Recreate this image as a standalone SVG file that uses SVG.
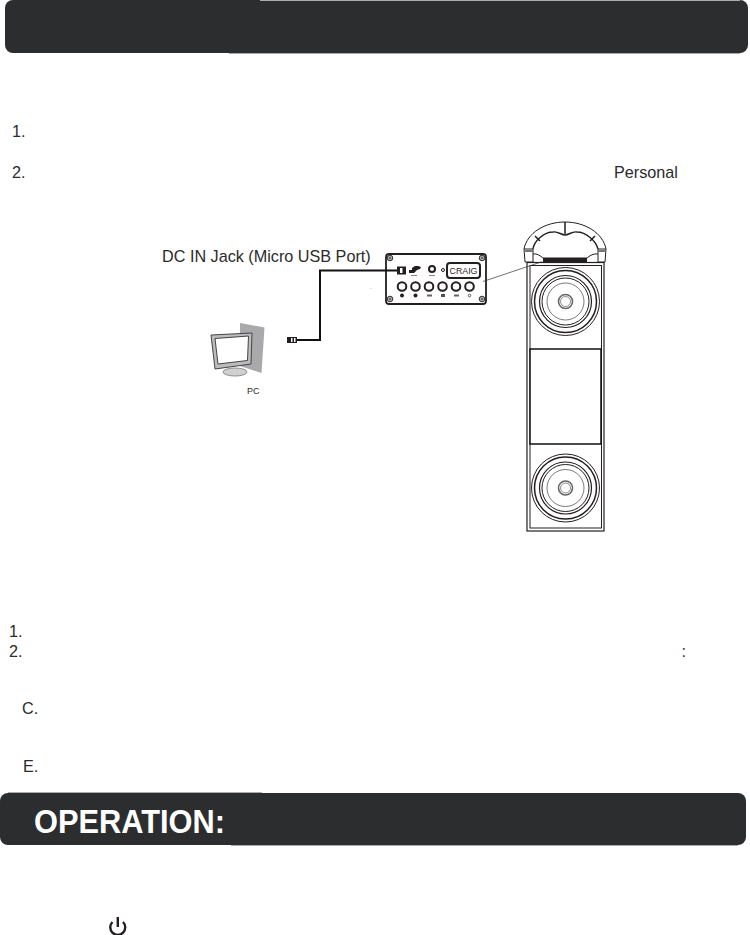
<svg xmlns="http://www.w3.org/2000/svg" width="750" height="935" viewBox="0 0 750 935">
<style>
text{font-family:"Liberation Sans",Arial,sans-serif;fill:#2b2b2b}
.n{font-size:16.200px}
.bar{fill:#2c2d2f}
.edge{fill:none;stroke:#a9aaab;stroke-width:1}
.k{fill:none;stroke:#231f20}
.b{fill:none;stroke:#231f20;stroke-width:2}
.f{fill:#231f20}
</style>
<defs>
<g id="driver">
<circle class="k" r="34" stroke-width="1"/>
<circle class="k" r="31" stroke-width="1.500"/>
<circle class="k" r="26" stroke-width="1.200"/>
<circle class="k" r="23.500" stroke-width="1"/>
<circle class="k" r="18.500" stroke-width=".6"/>
<circle r="7" fill="#fff" stroke="#666" stroke-width="1.600"/>
<circle class="k" r="5" stroke-width=".5"/>
</g>
<g id="screw">
<circle r="2.800" fill="#aaa" stroke="#231f20" stroke-width=".9"/>
<circle r="1" fill="#555"/>
</g>
</defs>
<rect width="750" height="935" fill="#fff"/>

<g id="top-bar">
<rect class="bar" x="5" y="0" width="743" height="53" rx="8"/>
<path class="edge" d="M260 .5H740M229 53.500H740"/>
</g>

<g id="list-1">
<text class="n" x="12" y="137">1.</text>
<text class="n" x="12" y="178">2.</text>
<text class="n" x="614" y="178">Personal</text>
</g>

<g id="label-dc">
<text x="162" y="262" font-size="16.200">DC IN Jack (Micro USB Port)</text>
<text x="370" y="289" font-size="5">.</text>
</g>

<g id="panel">
<rect x="386" y="254" width="100" height="50" rx="3" fill="#fff" stroke="#231f20" stroke-width="1.800"/>
<use href="#screw" x="390" y="258"/>
<use href="#screw" x="482" y="258"/>
<use href="#screw" x="390" y="299"/>
<use href="#screw" x="482" y="299"/>
<path class="f" d="M409 270h3v-2l3-2h3l3 1-1 2-3 1-3 3h-5z"/>
<rect x="411" y="275" width="6" height="1" fill="#888"/>
<circle cx="432" cy="269" r="3" class="b" stroke-width="1.500"/>
<rect x="429" y="275" width="6" height="1" fill="#888"/>
<circle cx="443" cy="270" r="1.500" class="k"/>
<rect x="447" y="263" width="33" height="15" rx="3" class="b" fill="#fff"/>
<text x="449.500" y="274" font-size="8.500" textLength="28" lengthAdjust="spacingAndGlyphs">CRAIG</text>
<circle cx="402" cy="286.500" r="4.300" class="b"/>
<circle cx="415.500" cy="286.500" r="4.300" class="b"/>
<circle cx="429" cy="286.500" r="4.300" class="b"/>
<circle cx="442.500" cy="286.500" r="4.300" class="b"/>
<circle cx="456" cy="286.500" r="4.300" class="b"/>
<circle cx="469.500" cy="286.500" r="4.300" class="b"/>
<circle class="f" cx="402" cy="295.500" r="2"/>
<circle class="f" cx="415.500" cy="295.500" r="2"/>
<rect class="f" x="427" y="294.500" width="5" height="2" opacity=".7"/>
<rect class="f" x="441" y="294" width="4" height="3" opacity=".8"/>
<rect class="f" x="454" y="294.500" width="5" height="2" opacity=".7"/>
<circle class="k" cx="469.500" cy="295.500" r="1.300" stroke-width=".7"/>
</g>

<g id="plug">
<rect class="f" x="287" y="337" width="10" height="6"/>
<rect x="291" y="338" width="1.500" height="4" fill="#fff"/>
<rect x="294" y="338" width="1.500" height="4" fill="#fff"/>
</g>

<g id="pc">
<path d="M240 323L264.500 327.500 261.500 373 240 366z" fill="#a9a9ab"/>
<ellipse cx="235" cy="372" rx="12" ry="4" fill="#d0d0d0" stroke="#777" stroke-width=".8"/>
<path d="M211 335L252 333 251 364 215 369z" fill="#bcbcbe" stroke="#444" stroke-width="1"/>
<path d="M215 338.500L248.500 336 247.500 360.500 218 364z" fill="#fff" stroke="#444" stroke-width="1"/>
<text x="247" y="394" font-size="9">PC</text>
</g>

<g id="speaker">
<rect x="527" y="262.500" width="77" height="268.500" fill="#fff" stroke="#231f20" stroke-width="1.200"/>
<rect x="530" y="265.500" width="71.500" height="262.500" fill="none" stroke="#231f20" stroke-width="1"/>
<rect x="530" y="349" width="71" height="95" fill="#fff" stroke="#111" stroke-width="1.500"/>
<use href="#driver" x="565.500" y="301.500"/>
<use href="#driver" x="565.500" y="488"/>
<path d="M524 249C527 233 545 222 565 222S603 233 606 249" class="k" stroke-width="1"/>
<path d="M533 249C534 241 544 232 553 232 558 231 561 235 565 235 569 235 572 231 577 232 586 232 596 241 598 249" class="k" stroke-width="1.400"/>
<path d="M535 236L540 241M595 236L590 241M565 222V234" class="k" stroke-width="1.500"/>
<path d="M524 249H533V262H525zM598 249H606L605 262H598z" fill="#fff" stroke="#231f20" stroke-width="1"/>
<path d="M524 250H533V252H524zM598 250H606V252H598z" fill="#777"/>
<path d="M533 254Q538 253 544 259M598 254Q592 253 586 259" class="k" stroke-width="1"/>
<rect class="f" x="543" y="257.500" width="44" height="4.500"/>
</g>

<g id="connectors">
<path d="M398 270.500H320V340H297" fill="none" stroke="#111" stroke-width="2"/>
<rect class="f" x="397" y="266.500" width="9" height="8"/>
<rect x="400" y="268" width="2.500" height="5" fill="#fff"/>
<path d="M483 281.500L542 261.700" fill="none" stroke="#333" stroke-width=".7"/>
</g>

<g id="list-2">
<text class="n" x="9" y="637">1.</text>
<text class="n" x="9" y="656.500">2.</text>
<text class="n" x="681.500" y="656.500">:</text>
<text class="n" x="22" y="714">C.</text>
<text class="n" x="23" y="772">E.</text>
</g>

<g id="operation-bar">
<rect class="bar" x="0" y="793" width="746" height="52" rx="8"/>
<path class="edge" d="M8 792.500H262M231 845.500H738"/>
<text x="34" y="833" font-size="33" font-weight="bold" textLength="191" lengthAdjust="spacingAndGlyphs" style="fill:#fff">OPERATION:</text>
</g>

<g id="power-icon">
<path d="M112.500 922a7.500 7.500 0 1 0 10.500 0" fill="none" stroke="#231f20" stroke-width="2.400"/>
<path d="M117.800 917V927" fill="none" stroke="#231f20" stroke-width="2.400"/>
</g>
</svg>
